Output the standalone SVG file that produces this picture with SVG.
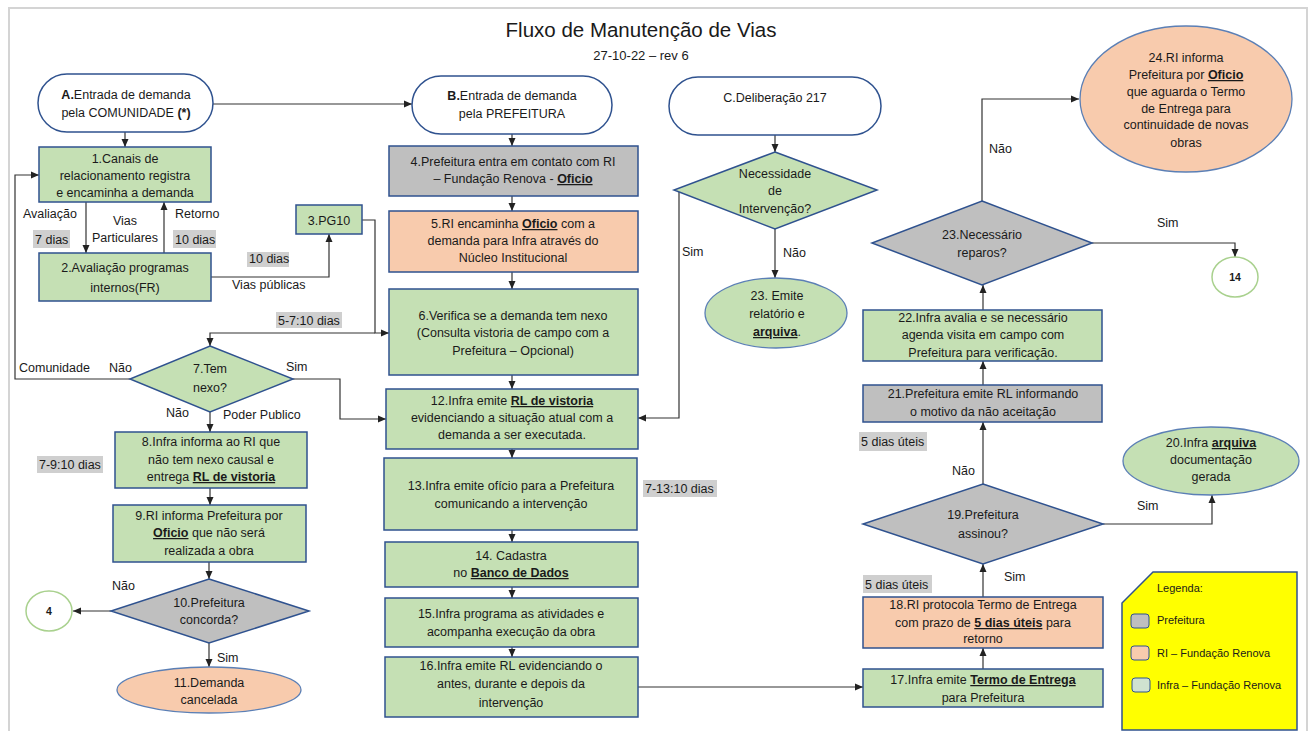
<svg xmlns="http://www.w3.org/2000/svg" width="1309" height="731" viewBox="0 0 1309 731">
<defs>
<marker id="ah" markerWidth="8" markerHeight="8" refX="8" refY="4" orient="auto" markerUnits="userSpaceOnUse"><path d="M0,0.5 L8,4 L0,7.5 z" fill="#222"/></marker>
</defs>
<style>
text{font-family:"Liberation Sans",Arial,sans-serif;font-size:12.5px;fill:#1a1a1a}
.c{text-anchor:middle}
.b{font-weight:bold}
.bu{font-weight:bold;text-decoration:underline}
.box{stroke:#2F528F;stroke-width:1.5}
.g{fill:#C5E0B4}
.p{fill:#F8CBAD}
.y{fill:#BFBFBF}
.w{fill:#FFFFFF}
.ell{stroke:#5B7FB5;stroke-width:1.3}
.con{fill:none;stroke:#333;stroke-width:1.2;marker-end:url(#ah)}
.lin{fill:none;stroke:#333;stroke-width:1.2}
.hl{fill:#CFCFCF}
.circ{fill:#fff;stroke:#A9D18E;stroke-width:1.5}
.sm{font-size:10.5px;font-weight:bold}
.lg{font-size:11px}
</style>
<rect x="0" y="0" width="1309" height="731" fill="#fff"/>
<path d="M9,731 V8 H1307 V731" fill="none" stroke="#D4D4D4" stroke-width="2"/>

<g id="title">
<text class="c" x="641" y="37" style="font-size:20.5px">Fluxo de Manutenção de Vias</text>
<text class="c" x="641" y="60" style="font-size:13px">27-10-22 – rev 6</text>
</g>

<g id="connectors">
<path class="con" d="M125,132 V147"/>
<path class="con" d="M213,104 H412"/>
<path class="con" d="M512,134 V146"/>
<path class="con" d="M512,196 V211"/>
<path class="con" d="M512,272 V289"/>
<path class="con" d="M512,375 V389"/>
<path class="con" d="M512,449 V458"/>
<path class="con" d="M512,530 V542"/>
<path class="con" d="M512,587 V598"/>
<path class="con" d="M512,647 V657"/>
<path class="con" d="M638,687 H863"/>
<path class="con" d="M86,202 V253"/>
<path class="con" d="M164,253 V202"/>
<path class="con" d="M211,277 H329 V234"/>
<path class="con" d="M362,220 H375 V333 H389"/>
<path class="con" d="M375,333 H210 V346"/>
<path class="con" d="M130,379 H15 V175 H39"/>
<path class="con" d="M293,379 H340 V419 H386"/>
<path class="con" d="M210,412 V432"/>
<path class="con" d="M210,488 V505"/>
<path class="con" d="M209,562 V579"/>
<path class="con" d="M111,611 H73"/>
<path class="con" d="M209,643 V667"/>
<path class="con" d="M775,135 V152"/>
<path class="con" d="M775,229 V278"/>
<path class="con" d="M679,190 V418 H638"/>
<path class="con" d="M983,669 V648"/>
<path class="con" d="M983,597 V564"/>
<path class="con" d="M1103,524 H1212 V495"/>
<path class="con" d="M983,484 V422"/>
<path class="con" d="M983,385 V361"/>
<path class="con" d="M983,310 V285"/>
<path class="con" d="M982,201 V99 H1079"/>
<path class="con" d="M1092,243 H1235 V257"/>
</g>

<g id="labels">
<text x="23" y="218">Avaliação</text>
<rect class="hl" x="33" y="230" width="37" height="18"/>
<text x="35" y="244">7 dias</text>
<text class="c" x="125" y="225">Vias</text>
<text class="c" x="125" y="242">Particulares</text>
<text x="175" y="218">Retorno</text>
<rect class="hl" x="173" y="230" width="43" height="18"/>
<text x="175" y="244">10 dias</text>
<rect class="hl" x="247" y="252" width="42" height="15"/>
<text x="249" y="263">10 dias</text>
<text x="232" y="289">Vias  públicas</text>
<rect class="hl" x="276" y="312" width="66" height="16"/>
<text x="278" y="325">5-7:10 dias</text>
<text x="19" y="372">Comunidade</text>
<text x="109" y="372">Não</text>
<text x="286" y="371">Sim</text>
<text x="166" y="417">Não</text>
<text x="223" y="419">Poder Publico</text>
<rect class="hl" x="37" y="456" width="66" height="17"/>
<text x="39" y="469">7-9:10 dias</text>
<text x="112" y="590">Não</text>
<text x="217" y="662">Sim</text>
<text x="682" y="256">Sim</text>
<text x="783" y="257">Não</text>
<rect class="hl" x="643" y="480" width="74" height="17"/>
<text x="645" y="493">7-13:10 dias</text>
<text x="989" y="153">Não</text>
<text x="1157" y="227">Sim</text>
<rect class="hl" x="859" y="432" width="68" height="19"/>
<text x="861" y="446">5 dias úteis</text>
<text x="952" y="475">Não</text>
<text x="1137" y="510">Sim</text>
<rect class="hl" x="863" y="575" width="69" height="18"/>
<text x="865" y="589">5 dias úteis</text>
<text x="1004" y="581">Sim</text>
</g>

<g id="nodeA">
<rect class="box w" x="38" y="74" width="175" height="58" rx="29"/>
<text class="c" x="126" y="99"><tspan class="b">A.</tspan>Entrada de demanda</text>
<text class="c" x="126" y="117">pela COMUNIDADE <tspan class="b">(*)</tspan></text>
</g>
<g id="node1">
<rect class="box g" x="39" y="147" width="172" height="55"/>
<text class="c" x="125" y="163">1.Canais de</text>
<text class="c" x="125" y="180">relacionamento registra</text>
<text class="c" x="125" y="197">e encaminha a demanda</text>
</g>
<g id="node2">
<rect class="box g" x="39" y="253" width="172" height="48"/>
<text class="c" x="125" y="272">2.Avaliação programas</text>
<text class="c" x="125" y="292">internos(FR)</text>
</g>
<g id="node3">
<rect class="box g" x="296" y="205" width="66" height="29"/>
<text class="c" x="329" y="225">3.PG10</text>
</g>
<g id="nodeB">
<rect class="box w" x="412" y="76" width="200" height="58" rx="29"/>
<text class="c" x="512" y="100"><tspan class="b">B.</tspan>Entrada de demanda</text>
<text class="c" x="512" y="118">pela PREFEITURA</text>
</g>
<g id="node4">
<rect class="box y" x="389" y="146" width="249" height="50"/>
<text class="c" x="513" y="166">4.Prefeitura entra em contato com RI</text>
<text class="c" x="513" y="183">– Fundação Renova - <tspan class="bu">Oficio</tspan></text>
</g>
<g id="node5">
<rect class="box p" x="389" y="211" width="249" height="61"/>
<text class="c" x="513" y="228">5.RI encaminha <tspan class="bu">Oficio</tspan> com a</text>
<text class="c" x="513" y="245">demanda para Infra através do</text>
<text class="c" x="513" y="262">Núcleo Institucional</text>
</g>
<g id="node6">
<rect class="box g" x="389" y="289" width="249" height="86"/>
<text class="c" x="513" y="320">6.Verifica se a demanda tem nexo</text>
<text class="c" x="513" y="337">(Consulta vistoria de campo com a</text>
<text class="c" x="513" y="355">Prefeitura – Opcional)</text>
</g>
<g id="node7">
<polygon class="box g" points="210,346 293,379 210,412 130,379"/>
<text class="c" x="210" y="373">7.Tem</text>
<text class="c" x="210" y="392">nexo?</text>
</g>
<g id="node8">
<rect class="box g" x="115" y="432" width="192" height="56"/>
<text class="c" x="211" y="446">8.Infra informa ao RI que</text>
<text class="c" x="211" y="464">não tem nexo causal e</text>
<text class="c" x="211" y="481">entrega <tspan class="bu">RL de vistoria</tspan></text>
</g>
<g id="node9">
<rect class="box g" x="113" y="505" width="193" height="57"/>
<text class="c" x="209" y="520">9.RI informa Prefeitura por</text>
<text class="c" x="209" y="537"><tspan class="bu">Oficio</tspan> que não será</text>
<text class="c" x="209" y="555">realizada a obra</text>
</g>
<g id="node10">
<polygon class="box y" points="209,579 309,611 209,643 111,611"/>
<text class="c" x="209" y="607">10.Prefeitura</text>
<text class="c" x="209" y="624">concorda?</text>
</g>
<g id="conn4">
<ellipse class="circ" cx="49" cy="611" rx="23" ry="20"/>
<text class="c sm" x="49" y="615">4</text>
</g>
<g id="node11">
<ellipse class="ell p" cx="209" cy="690" rx="92" ry="23"/>
<text class="c" x="209" y="687">11.Demanda</text>
<text class="c" x="209" y="704">cancelada</text>
</g>
<g id="node12">
<rect class="box g" x="386" y="389" width="252" height="60"/>
<text class="c" x="512" y="405">12.Infra emite <tspan class="bu">RL de vistoria</tspan></text>
<text class="c" x="512" y="422">evidenciando a situação atual com a</text>
<text class="c" x="512" y="439">demanda a ser executada.</text>
</g>
<g id="node13">
<rect class="box g" x="384" y="458" width="253" height="72"/>
<text class="c" x="511" y="490">13.Infra emite ofício para a Prefeitura</text>
<text class="c" x="511" y="508">comunicando a intervenção</text>
</g>
<g id="node14">
<rect class="box g" x="385" y="542" width="253" height="45"/>
<text class="c" x="511" y="560">14. Cadastra</text>
<text class="c" x="511" y="577">no <tspan class="bu">Banco de Dados</tspan></text>
</g>
<g id="node15">
<rect class="box g" x="385" y="598" width="253" height="49"/>
<text class="c" x="511" y="618">15.Infra programa as atividades e</text>
<text class="c" x="511" y="636">acompanha execução da obra</text>
</g>
<g id="node16">
<rect class="box g" x="385" y="657" width="253" height="60"/>
<text class="c" x="511" y="670">16.Infra emite RL evidenciando o</text>
<text class="c" x="511" y="688">antes, durante e depois da</text>
<text class="c" x="511" y="707">intervenção</text>
</g>
<g id="nodeC">
<rect class="box w" x="669" y="77" width="212" height="58" rx="29"/>
<text class="c" x="775" y="102">C.Deliberação 217</text>
</g>
<g id="nodeNI">
<polygon class="box g" points="775,152 877,190 775,229 674,190"/>
<text class="c" x="775" y="178">Necessidade</text>
<text class="c" x="775" y="195">de</text>
<text class="c" x="775" y="213">Intervenção?</text>
</g>
<g id="node23a">
<ellipse class="ell g" cx="776" cy="313" rx="71" ry="35"/>
<text class="c" x="777" y="300">23. Emite</text>
<text class="c" x="777" y="318">relatório e</text>
<text class="c" x="777" y="336"><tspan class="bu">arquiva</tspan>.</text>
</g>
<g id="node17">
<rect class="box g" x="863" y="669" width="240" height="38"/>
<text class="c" x="983" y="684">17.Infra emite <tspan class="bu">Termo de Entrega</tspan></text>
<text class="c" x="983" y="702">para Prefeitura</text>
</g>
<g id="node18">
<rect class="box p" x="863" y="597" width="240" height="51"/>
<text class="c" x="983" y="609">18.RI protocola Termo de Entrega</text>
<text class="c" x="983" y="627">com prazo de <tspan class="bu">5 dias úteis</tspan> para</text>
<text class="c" x="983" y="643">retorno</text>
</g>
<g id="node19">
<polygon class="box y" points="983,484 1103,524 983,564 863,524"/>
<text class="c" x="983" y="519">19.Prefeitura</text>
<text class="c" x="983" y="538">assinou?</text>
</g>
<g id="node20">
<ellipse class="ell g" cx="1211" cy="461" rx="88" ry="34"/>
<text class="c" x="1211" y="447">20.Infra <tspan class="bu">arquiva</tspan></text>
<text class="c" x="1211" y="464">documentação</text>
<text class="c" x="1211" y="481">gerada</text>
</g>
<g id="node21">
<rect class="box y" x="863" y="385" width="239" height="37"/>
<text class="c" x="983" y="398">21.Prefeitura emite RL informando</text>
<text class="c" x="983" y="416">o motivo da não aceitação</text>
</g>
<g id="node22">
<rect class="box g" x="863" y="310" width="239" height="51"/>
<text class="c" x="983" y="322">22.Infra avalia e se necessário</text>
<text class="c" x="983" y="339">agenda visita em campo com</text>
<text class="c" x="983" y="357">Prefeitura para verificação.</text>
</g>
<g id="node23">
<polygon class="box y" points="982,201 1092,243 982,285 872,243"/>
<text class="c" x="982" y="239">23.Necessário</text>
<text class="c" x="982" y="257">reparos?</text>
</g>
<g id="conn14">
<ellipse class="circ" cx="1235" cy="277" rx="23" ry="20"/>
<text class="c sm" x="1235" y="281">14</text>
</g>
<g id="node24">
<ellipse class="ell p" cx="1186" cy="99" rx="106" ry="73"/>
<text class="c" x="1186" y="62">24.RI informa</text>
<text class="c" x="1186" y="79">Prefeitura por <tspan class="bu">Oficio</tspan></text>
<text class="c" x="1186" y="96">que aguarda o Termo</text>
<text class="c" x="1186" y="113">de Entrega para</text>
<text class="c" x="1186" y="129">continuidade de novas</text>
<text class="c" x="1186" y="147">obras</text>
</g>
<g id="legend">
<path d="M1153,572 H1297 V730 H1122 V603 Z" fill="#FFFF00" stroke="#2F528F" stroke-width="1.5"/>
<text class="lg" x="1157" y="592">Legenda:</text>
<rect x="1131" y="614" width="18" height="14" rx="3" fill="#BFBFBF" stroke="#2F528F" stroke-width="1"/>
<text class="lg" x="1157" y="624">Prefeitura</text>
<rect x="1131" y="646" width="18" height="14" rx="3" fill="#F8CBAD" stroke="#2F528F" stroke-width="1"/>
<text class="lg" x="1157" y="657">RI – Fundação Renova</text>
<rect x="1132" y="678" width="18" height="14" rx="3" fill="#CFE2D0" stroke="#2F528F" stroke-width="1"/>
<text class="lg" x="1157" y="689">Infra – Fundação Renova</text>
</g>
</svg>
